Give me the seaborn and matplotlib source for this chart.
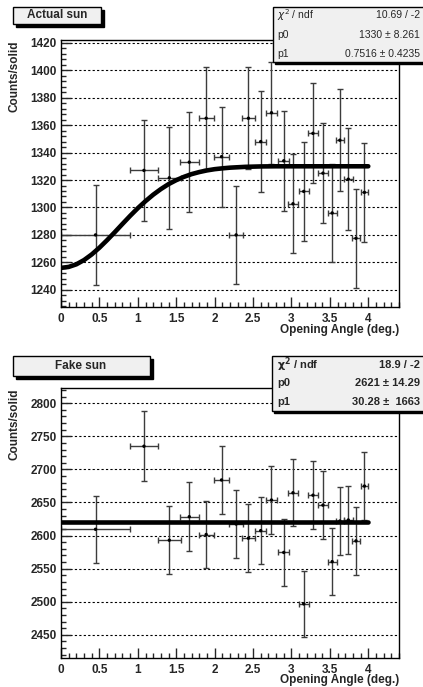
import numpy as np
import pandas as pd
import matplotlib
matplotlib.use('Agg')
import matplotlib.pyplot as plt
import seaborn as sns
from matplotlib.patches import Rectangle
from matplotlib.ticker import MultipleLocator, FuncFormatter

sns.set_style("ticks")
plt.rcParams['font.family'] = ['Liberation Sans', 'DejaVu Sans']
plt.rcParams['mathtext.fontset'] = 'dejavusans'

# bins in opening angle (deg.)
angle = [0.45, 1.08, 1.41, 1.67, 1.89, 2.09, 2.28, 2.44, 2.60, 2.74,
         2.90, 3.02, 3.16, 3.28, 3.41, 3.53, 3.63, 3.74, 3.84, 3.95]
angle_err = [0.45, 0.18, 0.15, 0.12, 0.10, 0.10, 0.09, 0.08, 0.07, 0.07,
             0.07, 0.06, 0.065, 0.06, 0.06, 0.06, 0.055, 0.055, 0.055, 0.05]

# actual sun
actual = [1280, 1327, 1321.6, 1333, 1365, 1337, 1280, 1365, 1348, 1369,
          1334, 1302.7, 1311.7, 1354, 1325, 1296, 1349, 1320.6, 1277.6, 1311]
actual_err = [36.5, 36.5, 37, 36.5, 37, 36.5, 36, 37, 37, 37,
              36.5, 36, 36, 36.5, 36.5, 36, 37, 37, 36, 36]
actual_fit_x = [0, 0.1, 0.2, 0.3, 0.4, 0.5, 0.6, 0.7, 0.8, 0.9, 1.0, 1.1, 1.2,
                1.3, 1.4, 1.5, 1.6, 1.7, 1.8, 1.9, 2.0, 2.1, 2.2, 2.3, 2.4,
                2.6, 2.8, 3.0, 3.2, 3.4, 3.6, 3.8, 4.0]
actual_fit_y = [1256, 1256.7, 1258.6, 1261.7, 1265.8, 1270.7, 1276.2, 1282, 1288, 1293.9,
                1299.5, 1304.6, 1309.3, 1313.4, 1317, 1319.9, 1322.3, 1324.3, 1325.8,
                1327, 1327.9, 1328.5, 1329, 1329.3, 1329.6,
                1329.9, 1330, 1330, 1330, 1330, 1330, 1330, 1330]

# fake sun
fake = [2609.5, 2735, 2593, 2628.5, 2601.6, 2684, 2617.5, 2596, 2607.5, 2653.7,
        2574.5, 2664.7, 2496.8, 2661, 2646, 2560.6, 2622, 2623.5, 2592, 2674.8]
fake_err = [51, 52.5, 51, 52, 51, 52, 51.5, 51, 51, 51.5,
            50.5, 50.5, 50, 51.5, 51.5, 51, 51.5, 51, 51, 51.5]
fake_fit_x = [0, 4]
fake_fit_y = [2621, 2621]

W, H = 423, 687
fig = plt.figure(figsize=(W / 100, H / 100), dpi=100)
ax1 = fig.add_axes([61 / W, 1 - 307 / H, 338 / W, 267 / H])
ax2 = fig.add_axes([61 / W, 1 - 658 / H, 338 / W, 270 / H])


def draw_panel(ax, y, yerr, fx, fy, ylim, major, minor, label_y):
    ax.errorbar(angle, y, xerr=angle_err, yerr=yerr, fmt='none',
                ecolor='#3c3c3c', elinewidth=1.0, capsize=2, capthick=1.0, zorder=2)
    df = pd.DataFrame({'angle': angle, 'counts': y})
    sns.scatterplot(data=df, x='angle', y='counts', ax=ax, color='black',
                    s=6, edgecolor='none', zorder=3)
    fit = pd.DataFrame({'angle': fx, 'counts': fy})
    sns.lineplot(data=fit, x='angle', y='counts', ax=ax, color='black',
                 linewidth=3.3, zorder=4)
    ax.set_xlim(0, 4.4)
    ax.set_ylim(*ylim)
    ax.xaxis.set_major_locator(MultipleLocator(0.5))
    ax.xaxis.set_minor_locator(MultipleLocator(0.1))
    ax.yaxis.set_major_locator(MultipleLocator(major))
    ax.yaxis.set_minor_locator(MultipleLocator(minor))
    ax.xaxis.set_major_formatter(FuncFormatter(lambda v, p: f"{v:g}"))
    ax.yaxis.set_major_formatter(FuncFormatter(lambda v, p: f"{v:g}"))
    ax.tick_params(which='major', direction='in', length=7, width=1,
                   labelsize=8.5, pad=4)
    ax.tick_params(which='minor', direction='in', length=3.5, width=1)
    ax.tick_params(axis='y', pad=3)
    for lab in ax.get_xticklabels() + ax.get_yticklabels():
        lab.set_fontweight('bold')
    ax.grid(False)
    ax.yaxis.grid(True, which='major', color='black', linestyle=(0, (2, 2)), linewidth=0.8)
    for s in ax.spines.values():
        s.set_color('black')
        s.set_linewidth(1)
    ax.set_xlabel('Opening Angle (deg.)', fontsize=8.5, fontweight='bold', loc='right')
    ax.set_ylabel('Counts/solid', fontsize=8.5, fontweight='bold', loc='top')
    ax.xaxis.set_label_coords(1, label_y)
    ax.yaxis.set_label_coords(-0.12, 1)


draw_panel(ax1, actual, actual_err, actual_fit_x, actual_fit_y,
           (1227.5, 1422), 20, 4, -0.065)
draw_panel(ax2, fake, fake_err, fake_fit_x, fake_fit_y,
           (2415, 2823), 50, 10, -0.06)


def box(x0, y0, x1, y1, shadow=3, fill='#f0f0f0', z=10):
    if shadow:
        fig.patches.append(Rectangle(((x0 + shadow) / W, 1 - (y1 + shadow) / H),
                                     (x1 - x0) / W, (y1 - y0) / H,
                                     transform=fig.transFigure, facecolor='black',
                                     edgecolor='black', zorder=z))
    fig.patches.append(Rectangle((x0 / W, 1 - y1 / H), (x1 - x0) / W, (y1 - y0) / H,
                                 transform=fig.transFigure, facecolor=fill,
                                 edgecolor='black', linewidth=1, zorder=z + 1))


def ftext(x, y, s, **kw):
    fig.text(x / W, 1 - y / H, s, zorder=20, va='center', **kw)


# title boxes
box(13, 7, 101, 24)
ftext(57, 15.5, 'Actual sun', ha='center', fontsize=8.5, fontweight='bold')
box(13, 356, 150, 376)
ftext(81, 366, 'Fake sun', ha='center', fontsize=8.5, fontweight='bold')

# stats boxes
box(273, 7, 425, 62, shadow=2)
ftext(277, 15, r'$\chi^2$ / ndf', ha='left', fontsize=7.5)
ftext(420, 15, '10.69 / -2', ha='right', fontsize=7.5)
ftext(277, 35, 'p0', ha='left', fontsize=7.5)
ftext(420, 35, '1330 ± 8.261', ha='right', fontsize=7.5)
ftext(277, 54, 'p1', ha='left', fontsize=7.5)
ftext(420, 54, '0.7516 ± 0.4235', ha='right', fontsize=7.5)

box(272, 356, 425, 411, shadow=2)
ftext(277, 365, r'$\mathbf{\chi^2}$ / ndf', ha='left', fontsize=8, fontweight='bold')
ftext(420, 365, '18.9 / -2', ha='right', fontsize=8, fontweight='bold')
ftext(277, 383, 'p0', ha='left', fontsize=8, fontweight='bold')
ftext(420, 383, '2621 ± 14.29', ha='right', fontsize=8, fontweight='bold')
ftext(277, 402, 'p1', ha='left', fontsize=8, fontweight='bold')
ftext(420, 402, '30.28 ±  1663', ha='right', fontsize=8, fontweight='bold')

fig.savefig('out.png', dpi=100)
